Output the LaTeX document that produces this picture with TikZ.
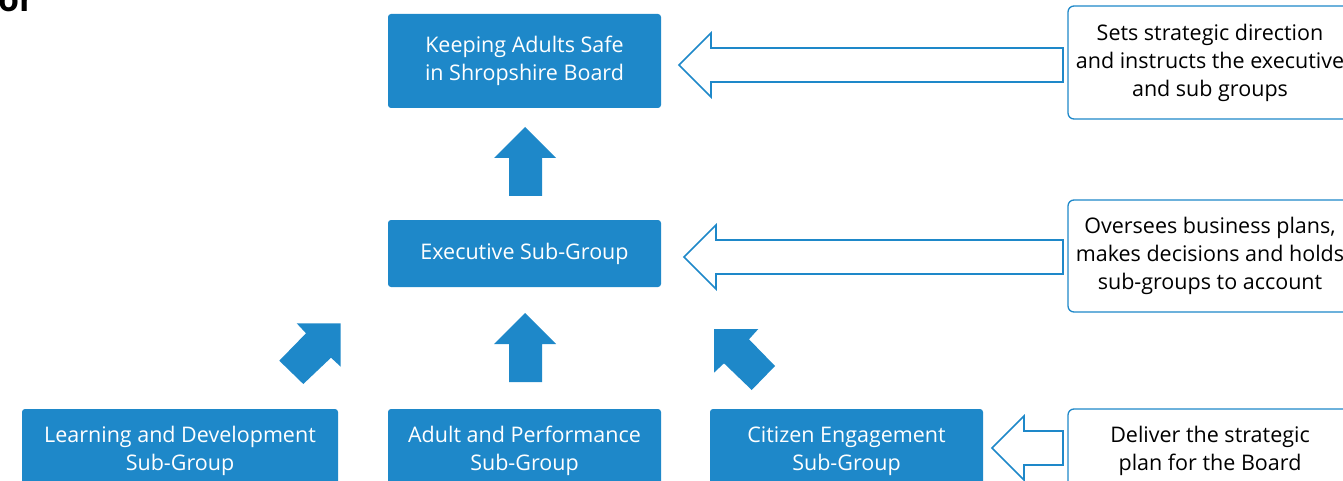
\documentclass[tikz,border=0pt]{standalone}
\usepackage{fontspec}
\setmainfont{Open Sans}
\definecolor{sblue}{RGB}{30,136,201}
\begin{document}
\begin{tikzpicture}[x=1pt,y=-1pt,
  txt/.style={font=\fontsize{21.5}{28}\selectfont},
  bluebox/.style={txt, fill=sblue, rounded corners=3pt, text=white, align=center, inner sep=0pt},
  notebox/.style={txt, draw=sblue, line width=1.3pt, fill=white, rounded corners=6pt, align=center, inner sep=0pt, text=black},
  hollow/.style={draw=sblue, line width=1.6pt, fill=white, line join=miter},
  solidarrow/.style={fill=sblue}]
\useasboundingbox (0,0) rectangle (1343,481);
% cut heading fragment
\node[anchor=base west, inner sep=0pt, font=\fontsize{34}{40}\selectfont\bfseries] (frag) at (-2,12) {or};
% blue boxes
\node[bluebox, minimum width=273pt, minimum height=94pt] (board) at (524.5,61) {Keeping Adults Safe\\in Shropshire Board};
\node[bluebox, minimum width=273pt, minimum height=67pt] (exec) at (524.5,253.5) {Executive Sub-Group};
\node[bluebox, minimum width=316pt, minimum height=84pt] (learn) at (180,451) {Learning and Development\\Sub-Group};
\node[bluebox, minimum width=273pt, minimum height=84pt] (adult) at (524.5,451) {Adult and Performance\\Sub-Group};
\node[bluebox, minimum width=273pt, minimum height=84pt] (citizen) at (846.5,451) {Citizen Engagement\\Sub-Group};
% note boxes
\node[notebox, minimum width=284pt, minimum height=113pt] (n1) at (1210,62.5) {Sets strategic direction\\and instructs the executive\\and sub groups};
\node[notebox, minimum width=284pt, minimum height=112pt] (n2) at (1210,256) {Oversees business plans,\\makes decisions and holds\\sub-groups to account};
\node[notebox, minimum width=284pt, minimum height=84pt] (n3) at (1210,451) {Deliver the strategic\\plan for the Board};
% hollow block arrows
\draw[hollow] (1063,48) -- (711,48) -- (711,33) -- (679,65) -- (711,97) -- (711,82) -- (1063,82) -- cycle;
\draw[hollow] (1063,240) -- (716,240) -- (716,225) -- (684,257) -- (716,289) -- (716,274) -- (1063,274) -- cycle;
\draw[hollow] (1063,431) -- (1024,431) -- (1024,416) -- (992,448) -- (1024,480) -- (1024,465) -- (1063,465) -- cycle;
% solid arrows
\fill[solidarrow] (525,127) -- (556,158) -- (542,158) -- (542,196) -- (509,196) -- (509,158) -- (494,158) -- cycle;
\fill[solidarrow] (525,313) -- (556,344) -- (542,344) -- (542,382) -- (509,382) -- (509,344) -- (494,344) -- cycle;
\fill[solidarrow] (340.7,323.3) -- (340.7,366.7) -- (331,357.7) -- (303.3,384) -- (279.3,360.7) -- (306,333.3) -- (296.7,323.3) -- cycle;
\fill[solidarrow] (714,329) -- (758.3,329) -- (749,339.3) -- (775,366) -- (751.7,390) -- (724,363.3) -- (714,372.7) -- cycle;
\end{tikzpicture}
\end{document}
